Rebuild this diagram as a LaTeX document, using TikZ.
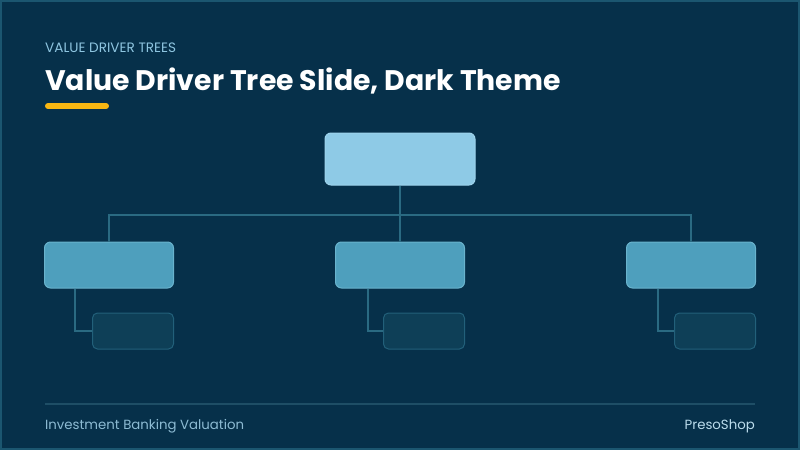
\documentclass[tikz,border=0pt]{standalone}
\usepackage{fontspec}
\setmainfont{Poppins}
\usepackage{tikz}
\usetikzlibrary{positioning}
\definecolor{slidebg}{HTML}{06304A}
\definecolor{slideframe}{HTML}{1B5670}
\definecolor{kickercolor}{HTML}{8EC5E0}
\definecolor{accentbar}{HTML}{F8B712}
\definecolor{treeline}{HTML}{2A6A82}
\definecolor{footline}{HTML}{1E4E66}
\definecolor{foottext}{HTML}{8DBBD3}
\definecolor{rootfill}{HTML}{8ECAE6}
\definecolor{rootdraw}{HTML}{9DD3EC}
\definecolor{midfill}{HTML}{4E9FBD}
\definecolor{middraw}{HTML}{69B3CD}
\definecolor{childfill}{HTML}{0E3F57}
\definecolor{childdraw}{HTML}{22607A}

\begin{document}
\begin{tikzpicture}[x=1pt, y=-1pt]
    % slide background and frame
    \fill[slidebg] (0,0) rectangle (800,450);
    \draw[slideframe, line width=2pt] (1,1) rectangle (799,449);
    \useasboundingbox (0,0) rectangle (800,450);

    % heading
    \node[anchor=base west, inner sep=0pt, text=kickercolor, font=\fontsize{13.6}{16}\selectfont]
        (kicker) at (45,52) {VALUE DRIVER TREES};
    \node[anchor=base west, inner sep=0pt, text=white, font=\fontsize{28.3}{32}\selectfont\bfseries]
        (title) at (45,90) {Value Driver Tree Slide, Dark Theme};
    \draw[accentbar, line width=6pt, line cap=round] (48,106) -- (106,106);

    % tree boxes
    \node[rectangle, rounded corners=6pt, draw=rootdraw, fill=rootfill, line width=1pt,
        minimum width=150pt, minimum height=52pt]
        (root) at (400,159) {};
    \node[rectangle, rounded corners=6pt, draw=middraw, fill=midfill, line width=1pt,
        minimum width=129pt, minimum height=46pt]
        (mid-center) at (400,265) {};
    \node[rectangle, rounded corners=6pt, draw=middraw, fill=midfill, line width=1pt,
        minimum width=129pt, minimum height=46pt,
        left=161pt of mid-center]
        (mid-left) {};
    \node[rectangle, rounded corners=6pt, draw=middraw, fill=midfill, line width=1pt,
        minimum width=129pt, minimum height=46pt,
        right=161pt of mid-center]
        (mid-right) {};
    \node[rectangle, rounded corners=5pt, draw=childdraw, fill=childfill, line width=1pt,
        minimum width=81pt, minimum height=36pt,
        below=24pt of mid-left.south east, anchor=north east]
        (child-left) {};
    \node[rectangle, rounded corners=5pt, draw=childdraw, fill=childfill, line width=1pt,
        minimum width=81pt, minimum height=36pt,
        below=24pt of mid-center.south east, anchor=north east]
        (child-center) {};
    \node[rectangle, rounded corners=5pt, draw=childdraw, fill=childfill, line width=1pt,
        minimum width=81pt, minimum height=36pt,
        below=24pt of mid-right.south east, anchor=north east]
        (child-right) {};

    % connectors
    \coordinate (bus) at (400,215);
    \draw[treeline, line width=2pt] (root.south) -- (mid-center.north);
    \draw[treeline, line width=2pt] (mid-left.north) |- (bus) -| (mid-right.north);
    \draw[treeline, line width=1.5pt] ([xshift=31pt]mid-left.south west) |- (child-left.west);
    \draw[treeline, line width=1.5pt] ([xshift=33pt]mid-center.south west) |- (child-center.west);
    \draw[treeline, line width=1.5pt] ([xshift=32pt]mid-right.south west) |- (child-right.west);

    % footer
    \draw[footline, line width=2pt] (45,404) -- (755,404);
    \node[anchor=base west, inner sep=0pt, text=foottext, font=\fontsize{13.3}{15}\selectfont]
        (footer) at (45,429) {Investment Banking Valuation};
    \node[anchor=base east, inner sep=0pt, text=kickercolor!60!white, font=\fontsize{13.3}{15}\selectfont]
        (brand) at (755,429) {PresoShop};
\end{tikzpicture}
\end{document}
